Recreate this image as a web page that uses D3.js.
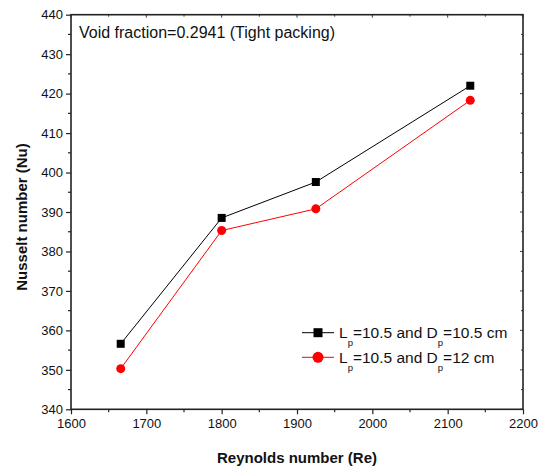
<!DOCTYPE html>
<html>
<head>
<meta charset="utf-8">
<script src="https://d3js.org/d3.v7.min.js"></script>
<style>
  body { margin: 0; background: #fff; }
  text { font-family: Arial, "Liberation Sans", sans-serif; }
</style>
</head>
<body>
<div id="chart"></div>
<script>
// data
var reynolds = [1666, 1800, 1925, 2130];
var nuTight = [356.6, 388.5, 397.6, 422.0];   // Lp=10.5, Dp=10.5 cm
var nuWide = [350.3, 385.3, 390.8, 418.3];    // Lp=10.5, Dp=12 cm
var xTicks = [1600, 1700, 1800, 1900, 2000, 2100, 2200];
var yTicks = [340, 350, 360, 370, 380, 390, 400, 410, 420, 430, 440];

var series = [
  { name: 'a', values: nuTight, color: '#000000', shape: 'square', label: ['L', 'p', '=10.5 and D', 'p', '=10.5 cm'] },
  { name: 'b', values: nuWide, color: '#ff0000', shape: 'circle', label: ['L', 'p', '=10.5 and D', 'p', '=12 cm'] }
];

var W = 544, H = 468,
    margin = { top: 14.7, right: 21, bottom: 58.7, left: 71 },
    width = W - margin.left - margin.right,
    height = H - margin.top - margin.bottom;

var x = d3.scaleLinear().domain([1600, 2200]).range([0, width]);
var y = d3.scaleLinear().domain([340, 440]).range([height, 0]);

var svg = d3.select('#chart').append('svg')
    .attr('width', W)
    .attr('height', H);

var g = svg.append('g')
    .attr('transform', translate(margin.left, margin.top));

// minor ticks (every 50 / every 5)
var xMinor = d3.range(1650, 2200, 100),
    yMinor = d3.range(345, 440, 10);

// bottom axis
var xAxis = g.append('g')
  .attr('transform', translate(0, height))
  .call(d3.axisBottom(x).tickValues(xTicks).tickFormat(d3.format('d')).tickSize(5).tickPadding(4));

var yAxis = g.append('g')
  .call(d3.axisLeft(y).tickValues(yTicks).tickFormat(d3.format('d')).tickSize(5).tickPadding(3));

[xAxis, yAxis].forEach(function(a){
  a.select('.domain').remove();
  a.selectAll('line').attr('stroke', '#222').attr('stroke-width', 1.2);
  a.selectAll('text').attr('fill', '#111').style('font-size', '13px');
});

// minor ticks outside
g.selectAll('.xminor').data(xMinor).enter().append('line')
  .attr('x1', function(d){ return x(d); }).attr('x2', function(d){ return x(d); })
  .attr('y1', height).attr('y2', height + 3)
  .attr('stroke', '#222').attr('stroke-width', 1.2);

g.selectAll('.yminor').data(yMinor).enter().append('line')
  .attr('y1', function(d){ return y(d); }).attr('y2', function(d){ return y(d); })
  .attr('x1', 0).attr('x2', -3)
  .attr('stroke', '#222').attr('stroke-width', 1.2);

// mirrored ticks on top and right
g.selectAll('.xtop').data(xTicks.concat(xMinor)).enter().append('line')
  .attr('x1', function(d){ return x(d); }).attr('x2', function(d){ return x(d); })
  .attr('y1', 0).attr('y2', function(d){ return d % 100 ? 2 : 3; })
  .attr('stroke', '#444').attr('stroke-width', 1);

g.selectAll('.yright').data(yTicks.concat(yMinor)).enter().append('line')
  .attr('y1', function(d){ return y(d); }).attr('y2', function(d){ return y(d); })
  .attr('x1', width).attr('x2', function(d){ return d % 10 ? width - 2 : width - 3; })
  .attr('stroke', '#444').attr('stroke-width', 1);

// frame
g.append('rect')
  .attr('width', width)
  .attr('height', height)
  .attr('fill', 'none')
  .attr('stroke', '#222')
  .attr('stroke-width', 1.6);

// lines + markers
var line = d3.line()
  .x(function(d, i){ return x(reynolds[i]); })
  .y(function(d){ return y(d); });

series.forEach(function(s){
  g.append('path')
    .datum(s.values)
    .attr('fill', 'none')
    .attr('stroke', s.color)
    .attr('stroke-width', 1)
    .attr('d', line);

  var pts = g.selectAll('.pt-' + s.name).data(s.values).enter();
  if (s.shape === 'square') {
    pts.append('rect')
      .attr('x', function(d, i){ return x(reynolds[i]) - 4; })
      .attr('y', function(d){ return y(d) - 4; })
      .attr('width', 8).attr('height', 8)
      .attr('fill', s.color);
  } else {
    pts.append('circle')
      .attr('cx', function(d, i){ return x(reynolds[i]); })
      .attr('cy', function(d){ return y(d); })
      .attr('r', 4.5)
      .attr('fill', s.color);
  }
});

// annotation
g.append('text')
  .attr('x', 8)
  .attr('y', 23.5)
  .style('font-size', '16px')
  .attr('fill', '#111')
  .text('Void fraction=0.2941 (Tight packing)');

// legend
var legend = svg.append('g')
  .attr('transform', translate(302, 332.7));

series.forEach(function(s, i){
  var row = legend.append('g').attr('transform', translate(0, i * 24.6));
  row.append('line')
    .attr('x1', 0).attr('x2', 32)
    .attr('stroke', s.color).attr('stroke-width', 1);
  if (s.shape === 'square') {
    row.append('rect').attr('x', 11.5).attr('y', -4.5).attr('width', 9).attr('height', 9).attr('fill', s.color);
  } else {
    row.append('circle').attr('cx', 16).attr('cy', 0).attr('r', 5.5).attr('fill', s.color);
  }
  var t = row.append('text')
    .attr('x', 37)
    .attr('y', 5.5)
    .style('font-size', '15.5px')
    .attr('fill', '#111');
  s.label.forEach(function(part, j){
    var span = t.append('tspan').text(part);
    if (j % 2 === 1) {
      span.attr('dy', 8).style('font-size', '9.5px');
    } else if (j > 0) {
      span.attr('dy', -8);
    }
  });
});

// axis titles
svg.append('text')
  .attr('x', margin.left + width / 2)
  .attr('y', 463)
  .attr('text-anchor', 'middle')
  .style('font-size', '15px')
  .style('font-weight', 'bold')
  .attr('fill', '#111')
  .text('Reynolds number (Re)');

svg.append('text')
  .attr('transform', translate(27, 217) + ' rotate(-90)')
  .attr('text-anchor', 'middle')
  .style('font-size', '15px')
  .style('font-weight', 'bold')
  .attr('fill', '#111')
  .text('Nusselt number (Nu)');

function translate(x, y){
  return 'translate(' + x + ',' + y + ')';
}
</script>
</body>
</html>
